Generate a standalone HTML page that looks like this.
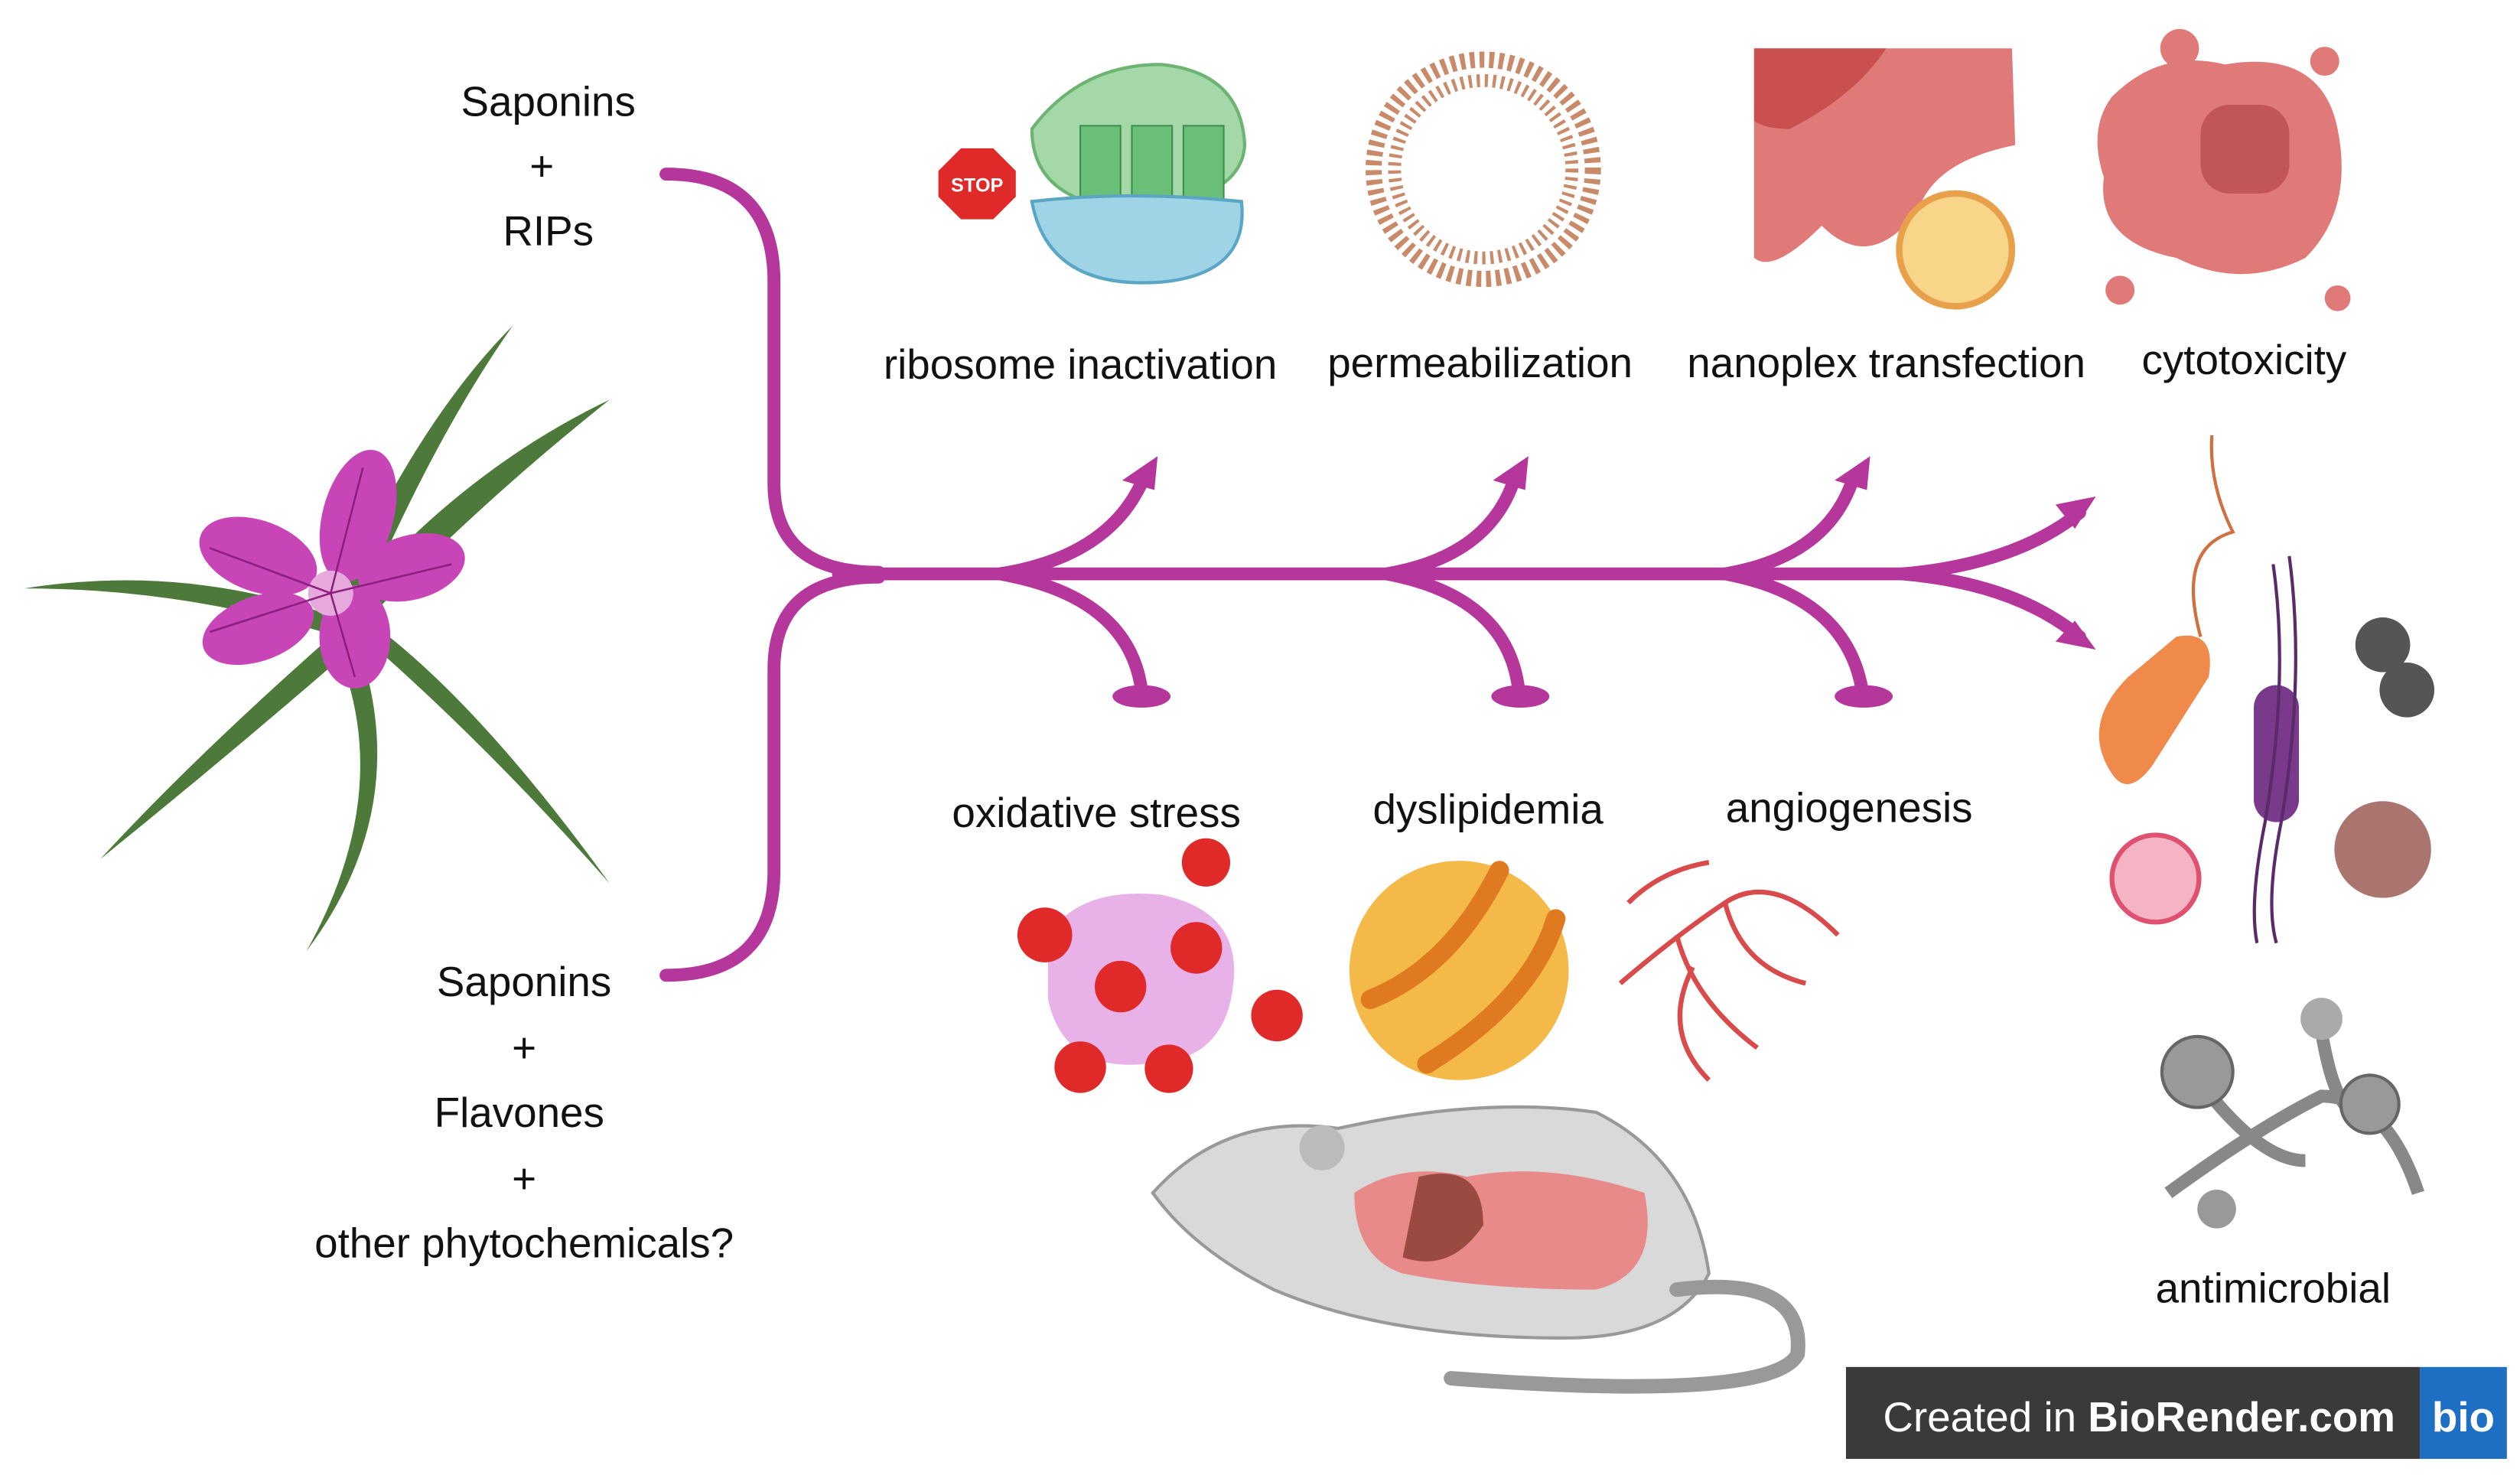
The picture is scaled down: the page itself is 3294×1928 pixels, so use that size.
<!DOCTYPE html>
<html><head><meta charset="utf-8"><style>
html,body{margin:0;padding:0;background:#fff;}
svg{display:block;}
text{font-family:"Liberation Sans","DejaVu Sans",sans-serif;fill:#111;}
</style></head><body>
<svg width="3294" height="1928" viewBox="0 0 1563 915" xmlns="http://www.w3.org/2000/svg">
<rect width="1563" height="915" fill="#fff"/>
<!-- leaves -->
<g fill="#4d7a3a">
<path d="M210,370 Q260,260 318,202 Q270,270 225,375Z"/>
<path d="M220,370 Q290,290 378,248 Q300,310 232,380Z"/>
<path d="M200,380 Q110,350 15,365 Q110,365 200,392Z"/>
<path d="M205,395 Q120,470 62,533 Q140,470 215,405Z"/>
<path d="M225,395 Q300,460 378,548 Q300,440 235,390Z"/>
<path d="M215,420 Q240,500 190,590 Q250,510 228,420Z"/>
</g>
<!-- flower -->
<g fill="#c845b8">
<ellipse cx="222" cy="320" rx="22" ry="42" transform="rotate(15 222 320)"/>
<ellipse cx="255" cy="352" rx="34" ry="20" transform="rotate(-15 255 352)"/>
<ellipse cx="160" cy="345" rx="38" ry="22" transform="rotate(20 160 345)"/>
<ellipse cx="160" cy="390" rx="36" ry="20" transform="rotate(-20 160 390)"/>
<ellipse cx="220" cy="395" rx="22" ry="32"/>
<circle cx="205" cy="368" r="14" fill="#e7a9dc"/>
</g>
<g stroke="#8a1f7e" stroke-width="1.2" fill="none">
<path d="M205,368 L130,340 M205,368 L130,392 M205,368 L225,290 M205,368 L280,350 M205,368 L220,420"/>
</g>
<!-- connectors -->
<g fill="none" stroke="#b5379b" stroke-width="8" stroke-linecap="round">
<path d="M413,108 Q480,108 480,175 L480,300 Q480,355 545,355"/>
<path d="M413,605 Q480,605 480,540 L480,415 Q480,358 545,358"/>
<path d="M520,356 L1200,356"/>
<path d="M1180,356 Q1250,350 1290,318"/>
<path d="M1180,356 Q1250,362 1290,395"/>
<path d="M620,356 Q690,345 710,295"/>
<path d="M860,356 Q925,345 940,295"/>
<path d="M1070,356 Q1135,345 1150,295"/>
<path d="M620,356 Q700,370 708,428"/>
<path d="M860,356 Q935,370 942,428"/>
<path d="M1070,356 Q1145,370 1155,428"/>
</g>
<g fill="#b5379b">
<path d="M718,283 L696,298 L716,304Z"/>
<path d="M948,283 L926,298 L946,304Z"/>
<path d="M1160,283 L1138,298 L1158,304Z"/>
<path d="M1300,308 L1275,313 L1287,328Z"/>
<path d="M1300,403 L1275,398 L1287,385Z"/>
<ellipse cx="708" cy="432" rx="18" ry="7"/>
<ellipse cx="943" cy="432" rx="18" ry="7"/>
<ellipse cx="1156" cy="432" rx="18" ry="7"/>
</g>
<!-- ribosome -->
<path d="M640,80 Q670,40 720,40 Q770,45 772,90 Q770,125 700,130 Q640,125 640,80Z" fill="#a4d8a8" stroke="#6db472" stroke-width="2"/>
<rect x="670" y="78" width="25" height="48" fill="#6ac078" stroke="#3f8f4c"/><rect x="702" y="78" width="25" height="48" fill="#6ac078" stroke="#3f8f4c"/><rect x="734" y="78" width="25" height="48" fill="#6ac078" stroke="#3f8f4c"/>
<path d="M640,125 Q700,118 770,125 Q775,170 720,175 Q650,180 640,125Z" fill="#9fd3e6" stroke="#5aa6c5" stroke-width="2"/>
<polygon points="596,92 616,92 630,106 630,122 616,136 596,136 582,122 582,106" fill="#e02a2a"/>
<text x="606" y="119" font-size="12" font-weight="bold" text-anchor="middle" style="fill:#fff">STOP</text>
<!-- membrane -->
<circle cx="920" cy="105" r="68" fill="none" stroke="#c98a6a" stroke-width="10" stroke-dasharray="3 3"/>
<circle cx="920" cy="105" r="55" fill="none" stroke="#c98a6a" stroke-width="8" stroke-dasharray="2 3"/>
<!-- nanoplex -->
<path d="M1088,30 L1248,30 L1250,90 Q1200,100 1190,130 Q1160,170 1130,140 Q1100,170 1088,160Z" fill="#e07a78"/>
<path d="M1088,30 L1170,30 Q1150,60 1110,80 Q1095,80 1088,75Z" fill="#c9504e"/>
<circle cx="1213" cy="155" r="35" fill="#f9d58a" stroke="#e8a04a" stroke-width="4"/>
<!-- cytotoxicity -->
<path d="M1310,60 Q1340,30 1380,40 Q1440,30 1450,80 Q1460,130 1430,160 Q1390,180 1350,160 Q1300,150 1305,110 Q1295,80 1310,60Z" fill="#e07a78"/>
<rect x="1365" y="65" width="55" height="55" rx="18" fill="#c25555"/>
<circle cx="1352" cy="30" r="12" fill="#e07a78"/><circle cx="1442" cy="38" r="9" fill="#e07a78"/><circle cx="1450" cy="185" r="8" fill="#e07a78"/><circle cx="1315" cy="180" r="9" fill="#e07a78"/>
<!-- microbes -->
<path d="M1310,480 Q1290,450 1320,420 L1350,395 Q1375,390 1370,420 L1335,475 Q1320,495 1310,480Z" fill="#f08a4b"/>
<path d="M1365,395 Q1350,340 1385,330 Q1370,300 1372,270" fill="none" stroke="#d07040" stroke-width="2"/>
<rect x="1398" y="425" width="28" height="85" rx="14" fill="#7a3a8c"/>
<path d="M1410,350 Q1420,420 1405,510 Q1395,560 1400,585 M1420,345 Q1430,420 1415,510 Q1405,560 1412,585" fill="none" stroke="#5a2a6a" stroke-width="2"/>
<circle cx="1478" cy="400" r="17" fill="#555"/><circle cx="1493" cy="428" r="17" fill="#555"/>
<circle cx="1337" cy="545" r="27" fill="#f4b4c4" stroke="#e05070" stroke-width="3"/>
<circle cx="1478" cy="527" r="30" fill="#a9756e"/>
<!-- fungus -->
<path d="M1345,740 Q1400,700 1440,680 Q1480,680 1500,740 M1440,640 Q1450,700 1470,690 M1360,665 Q1400,720 1430,720" fill="none" stroke="#888" stroke-width="8"/>
<circle cx="1363" cy="665" r="22" fill="#999" stroke="#666" stroke-width="2"/>
<circle cx="1470" cy="685" r="18" fill="#999" stroke="#666" stroke-width="2"/>
<circle cx="1440" cy="632" r="13" fill="#aaa"/>
<circle cx="1375" cy="750" r="12" fill="#999"/>
<!-- oxidative -->
<path d="M650,580 Q670,550 720,555 Q770,565 765,610 Q760,660 710,660 Q660,665 650,620Z" fill="#e8b1e8"/>
<g fill="#e02a2a">
<circle cx="648" cy="580" r="17"/><circle cx="748" cy="535" r="15"/><circle cx="742" cy="588" r="16"/><circle cx="695" cy="612" r="16"/><circle cx="792" cy="630" r="16"/><circle cx="670" cy="662" r="16"/><circle cx="725" cy="663" r="15"/>
</g>
<!-- dyslipidemia -->
<circle cx="905" cy="602" r="68" fill="#f5b94a"/>
<path d="M850,620 Q900,600 930,540 M885,660 Q950,620 965,570" fill="none" stroke="#e07a20" stroke-width="12" stroke-linecap="round"/>
<!-- angiogenesis -->
<g fill="none" stroke="#d94a4a" stroke-width="3">
<path d="M1005,610 Q1040,580 1070,560 Q1100,540 1140,580 M1040,580 Q1050,620 1090,650 M1070,560 Q1080,600 1120,610 M1010,560 Q1030,540 1060,535 M1050,600 Q1030,640 1060,670"/>
</g>
<!-- mouse -->
<path d="M715,740 Q760,690 830,700 Q920,680 990,690 Q1050,720 1060,790 Q1040,830 970,830 Q860,830 790,800 Q740,775 715,740Z" fill="#d9d9d9" stroke="#999" stroke-width="2"/>
<path d="M1040,800 Q1120,790 1115,840 Q1100,870 900,855" fill="none" stroke="#999" stroke-width="9" stroke-linecap="round"/>
<circle cx="820" cy="712" r="14" fill="#bbb"/>
<path d="M840,740 Q870,720 910,730 Q960,720 1020,740 Q1030,790 990,800 Q920,800 870,790 Q840,780 840,740Z" fill="#e88a8a"/>
<path d="M880,730 Q920,720 920,760 Q900,790 870,780Z" fill="#9a4a40"/>
<!-- labels -->
<g font-size="26" text-anchor="middle">
<text x="340" y="72">Saponins</text><text x="336" y="112">+</text><text x="340" y="152">RIPs</text>
<text x="325" y="618">Saponins</text><text x="325" y="659">+</text><text x="322" y="699">Flavones</text><text x="325" y="740">+</text><text x="325" y="780">other phytochemicals?</text>
<text x="670" y="235">ribosome inactivation</text>
<text x="918" y="234">permeabilization</text>
<text x="1170" y="234">nanoplex transfection</text>
<text x="1392" y="232">cytotoxicity</text>
<text x="680" y="513">oxidative stress</text>
<text x="923" y="511">dyslipidemia</text>
<text x="1147" y="510">angiogenesis</text>
<text x="1410" y="808">antimicrobial</text>
</g>
<!-- badge -->
<rect x="1145" y="848" width="356" height="57" fill="#3a3a3a"/>
<rect x="1501" y="848" width="54" height="57" fill="#1e6fc4"/>
<text x="1168" y="888" font-size="26" style="fill:#fff">Created in <tspan font-weight="bold">BioRender.com</tspan></text>
<text x="1528" y="888" font-size="26" font-weight="bold" text-anchor="middle" style="fill:#fff">bio</text>
</svg>
</body></html>
